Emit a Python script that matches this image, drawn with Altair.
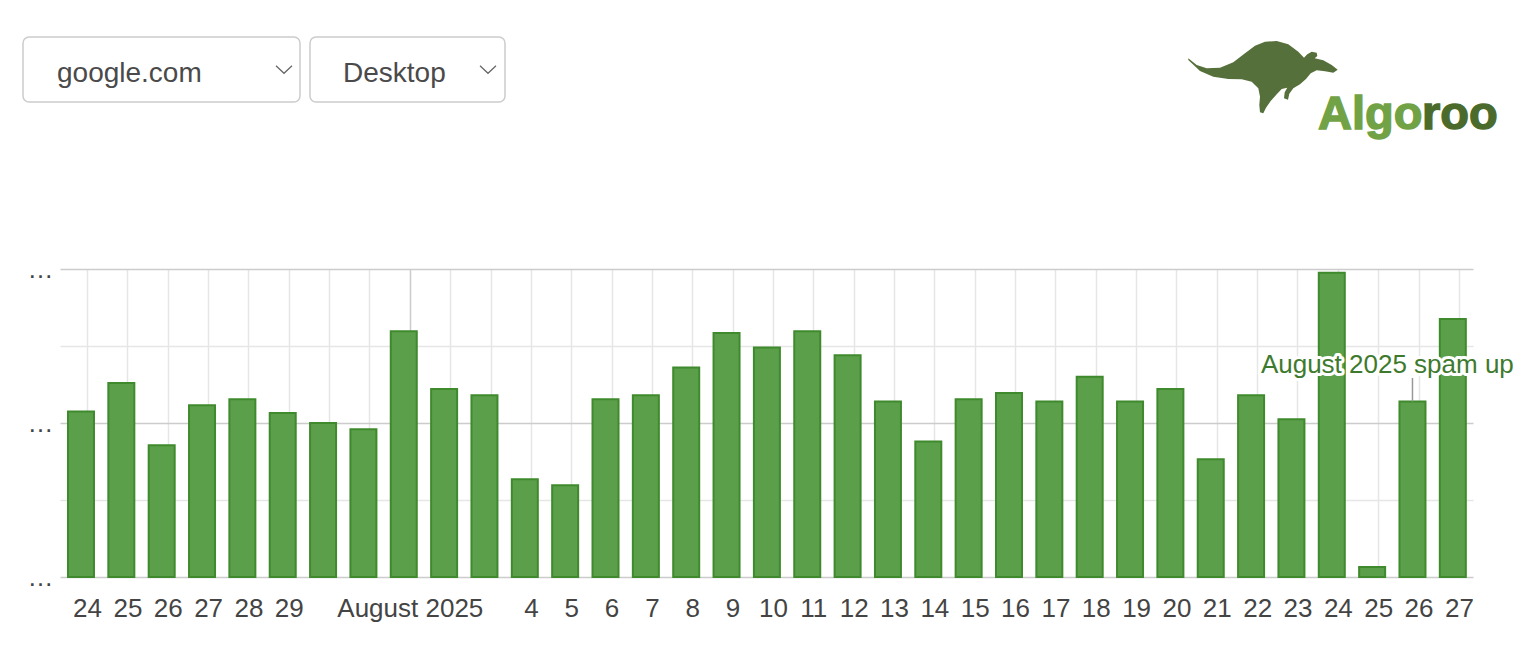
import altair as alt
import pandas as pd

# ---------------- data ----------------
dates = ["2025-07-24", "2025-07-25", "2025-07-26", "2025-07-27", "2025-07-28", "2025-07-29",
         "2025-07-30", "2025-07-31", "2025-08-01", "2025-08-02", "2025-08-03", "2025-08-04",
         "2025-08-05", "2025-08-06", "2025-08-07", "2025-08-08", "2025-08-09", "2025-08-10",
         "2025-08-11", "2025-08-12", "2025-08-13", "2025-08-14", "2025-08-15", "2025-08-16",
         "2025-08-17", "2025-08-18", "2025-08-19", "2025-08-20", "2025-08-21", "2025-08-22",
         "2025-08-23", "2025-08-24", "2025-08-25", "2025-08-26", "2025-08-27"]
tick_labels = ["24", "25", "26", "27", "28", "29", "", "", "August 2025", "", "", "4", "5",
               "6", "7", "8", "9", "10", "11", "12", "13", "14", "15", "16", "17", "18", "19",
               "20", "21", "22", "23", "24", "25", "26", "27"]
values = [2.15, 2.52, 1.71, 2.23, 2.31, 2.13, 2.00, 1.92, 3.19, 2.44, 2.36, 1.27, 1.19,
          2.31, 2.36, 2.72, 3.17, 2.98, 3.19, 2.88, 2.28, 1.76, 2.31, 2.39, 2.28, 2.60,
          2.28, 2.44, 1.53, 2.36, 2.05, 3.95, 0.13, 2.28, 3.35]
y_ticks = [0, 1, 2, 3, 4]
y_labels = ["…", "", "…", "", "…"]
annotation_day = 33
annotation_text = "August 2025 spam up"
month_start_day = 8
dropdown_texts = ["google.com", "Desktop"]
logo_parts = ["Algo", "roo"]

# ---------------- layout helpers ----------------
FONT = "Liberation Sans"
OX, OY = 60, 269          # plot origin on the page
W, H = 1413, 308
TICK_SHIFT = 0.15          # day ticks sit slightly right of bar centres


def px(x):
    return x - OX


def py(y):
    return y - OY


df = pd.DataFrame({"idx": list(range(len(values))), "date": dates, "value": values})

label_arr = "[" + ",".join("'" + t + "'" for t in tick_labels) + "]"
ylabel_arr = "[" + ",".join("'" + t + "'" for t in y_labels) + "]"

x_enc = alt.X(
    "idx:Q",
    scale=alt.Scale(domain=[-0.52, 34.5], nice=False, zero=False, padding=0),
    axis=alt.Axis(
        values=[i + TICK_SHIFT for i in range(len(values))],
        labelExpr=f"{label_arr}[round(datum.value - {TICK_SHIFT})]",
        grid=True,
        gridColor={"condition": {"test": f"abs(datum.value - {month_start_day + TICK_SHIFT}) < 0.01",
                                 "value": "#cccccc"},
                   "value": "#e6e6e6"},
        gridWidth=1.5,
        domain=False,
        ticks=False,
        tickSize=0,
        labelPadding=39,
        labelBaseline="alphabetic",
        labelFontSize=26,
        labelFont=FONT,
        labelColor="#444444",
        labelOverlap=False,
        labelFlush=False,
        title=None,
    ),
)

y_enc = alt.Y(
    "value:Q",
    scale=alt.Scale(domain=[0, 4], nice=False, zero=True),
    axis=alt.Axis(
        values=y_ticks,
        labelExpr=f"{ylabel_arr}[round(datum.value)]",
        grid=True,
        gridColor={"condition": {"test": "datum.value % 2 == 0", "value": "#cccccc"},
                   "value": "#e6e6e6"},
        gridWidth=1.5,
        domain=False,
        ticks=False,
        tickSize=0,
        labelPadding=7,
        labelBaseline="alphabetic",
        labelOffset=8.5,
        labelFontSize=26,
        labelFont=FONT,
        labelColor="#444444",
        title=None,
    ),
)

bars = alt.Chart(df).mark_bar(
    size=26, fill="#5b9f4a", stroke="#3f8a2d", strokeWidth=2
).encode(x=x_enc, y=y_enc, tooltip=["date:N", "value:Q"])

ann_df = pd.DataFrame({"idx": [annotation_day], "value": [values[annotation_day]],
                       "text": [annotation_text]})
ann = alt.Chart(ann_df)
leader = ann.mark_rule(color="#999999", strokeWidth=1.5).encode(
    x="idx:Q", y="value:Q", y2=alt.value(py(378)))
halo = ann.mark_text(align="left", baseline="alphabetic", dx=-151.6, fontSize=26, font=FONT,
                     fill="white", stroke="white", strokeWidth=6, strokeJoin="round").encode(
    x="idx:Q", y=alt.value(py(373)), text="text:N")
ann_text = ann.mark_text(align="left", baseline="alphabetic", dx=-151.6, fontSize=26, font=FONT,
                         fill="#3e7a2e").encode(
    x="idx:Q", y=alt.value(py(373)), text="text:N")

# ---------------- decorations (dropdowns + logo) ----------------
deco = alt.Chart(pd.DataFrame({"k": [0]}))
layers = []
for (x0, x1, tx, cx), label in zip([(23, 300, 57, 284), (310, 505, 343, 488)], dropdown_texts):
    layers.append(deco.mark_rect(cornerRadius=6, fill="white", stroke="#cccccc", strokeWidth=1.5).encode(
        x=alt.value(px(x0)), x2=alt.value(px(x1)), y=alt.value(py(37)), y2=alt.value(py(102))))
    layers.append(deco.mark_text(text=label, align="left", baseline="alphabetic", fontSize=28,
                                 font=FONT, color="#4a4a4a").encode(
        x=alt.value(px(tx)), y=alt.value(py(81.5))))
    layers.append(deco.mark_point(shape="M-8,-3.8L0,3.8L8,-3.8", size=4, filled=False,
                                  stroke="#666666", strokeWidth=1.2, opacity=1).encode(
        x=alt.value(px(cx)), y=alt.value(py(69.5))))

# kangaroo silhouette (outline traced in a 3x crop whose origin is 1180,35)
kpts = [(25, 70), (50, 90), (80, 100), (120, 98), (160, 82), (195, 55), (225, 32), (255, 20),
        (290, 18), (325, 28), (355, 50), (372, 68), (382, 58), (395, 50), (410, 53), (412, 63),
        (404, 70), (430, 76), (455, 90), (473, 104), (460, 113), (435, 109), (410, 106),
        (392, 115), (378, 132), (360, 148), (340, 160), (328, 176), (324, 194), (312, 190),
        (314, 172), (322, 158), (305, 162), (290, 178), (272, 198), (258, 218), (250, 235),
        (240, 232), (238, 210), (240, 185), (235, 160), (215, 140), (185, 133), (145, 132),
        (100, 125), (60, 108), (25, 75)]
KCX, KCY = 1264, 86
kpath = "M" + "L".join(f"{1180 + zx / 3 - KCX:.1f},{35 + zy / 3 - KCY:.1f}" for zx, zy in kpts) + "Z"
layers.append(deco.mark_point(shape=kpath, size=4, filled=True, color="#55703a", opacity=1,
                              strokeWidth=0).encode(x=alt.value(px(KCX)), y=alt.value(py(KCY))))
layers.append(deco.mark_text(text=logo_parts[0], align="left", baseline="alphabetic", fontSize=47,
                             fontWeight="bold", font=FONT, color="#72a246", stroke="#72a246",
                             strokeWidth=1.4).encode(
    x=alt.value(px(1318)), y=alt.value(py(128.5))))
layers.append(deco.mark_text(text=logo_parts[1], align="left", baseline="alphabetic", fontSize=47,
                             fontWeight="bold", font=FONT, color="#4b6b2c", stroke="#4b6b2c",
                             strokeWidth=1.4).encode(
    x=alt.value(px(1422)), y=alt.value(py(128.5))))

chart = alt.layer(bars, leader, halo, ann_text, *layers).properties(
    width=W, height=H,
    autosize=alt.AutoSizeParams(type="none"),
    padding={"left": OX - 8, "top": OY - 8, "right": 1516 - (OX - 8) - W, "bottom": 60},
).configure_view(stroke=None)

chart.save("out.html", embed_options={"renderer": "svg", "actions": False})
